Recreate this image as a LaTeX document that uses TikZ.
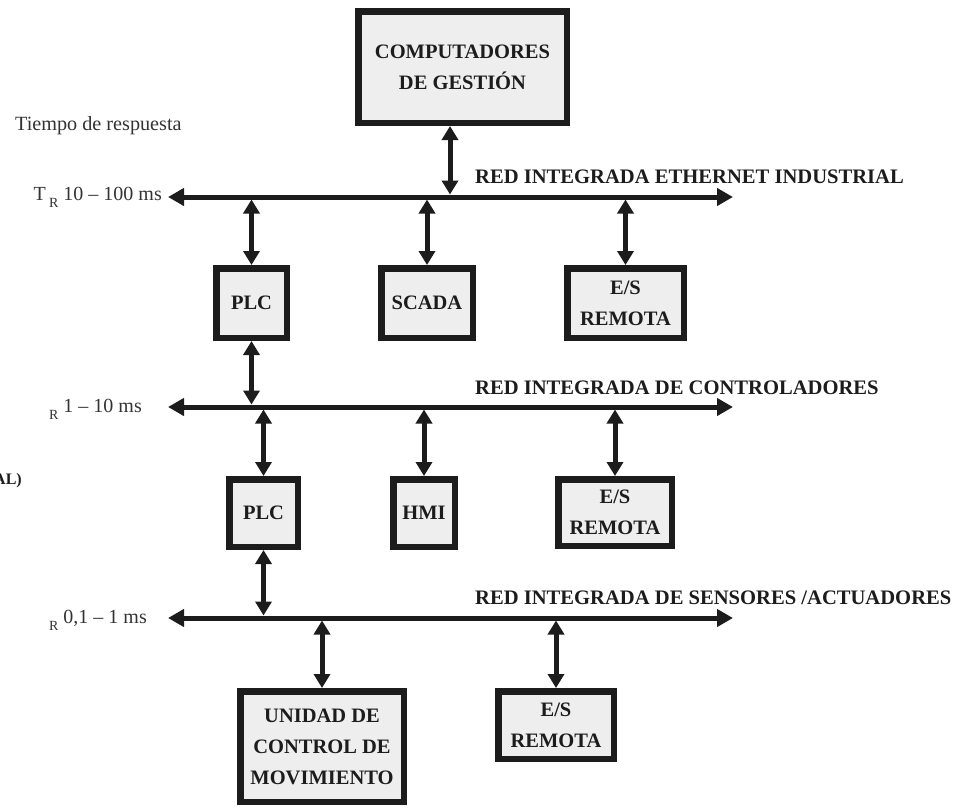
\documentclass[tikz,border=0pt]{standalone}
\usepackage{fontspec}
\setmainfont{Liberation Serif}
\usetikzlibrary{arrows.meta}
\definecolor{ink}{HTML}{1C1C1C}
\definecolor{boxgray}{HTML}{EEEEEE}
\definecolor{labelgray}{HTML}{333333}
\begin{document}
\begin{tikzpicture}[x=1pt,y=-1pt,
  unit/.style={draw=ink, line width=6.5pt, fill=boxgray, inner sep=0pt,
    align=center, text=ink, font=\fontsize{20.5}{31}\selectfont\bfseries},
  bus/.style={draw=ink, line width=5pt,
    {Triangle[length=16pt,width=17pt]}-{Triangle[length=16pt,width=17pt]}},
  link/.style={draw=ink, line width=5pt,
    {Triangle[length=14pt,width=16pt]}-{Triangle[length=14pt,width=16pt]}},
  netlabel/.style={anchor=base west, inner sep=0pt, text=ink,
    font=\fontsize{20.6}{24}\selectfont\bfseries},
  timelabel/.style={anchor=base east, inner sep=0pt, text=labelgray,
    font=\fontsize{20}{24}\selectfont}
]
\useasboundingbox (0,0) rectangle (955,806);

% ---- network buses ----
\coordinate (b1w) at (168,197); \coordinate (b1e) at (733,197);
\coordinate (b2w) at (168,407); \coordinate (b2e) at (733,407);
\coordinate (b3w) at (168,618); \coordinate (b3e) at (733,618);
% edges of each bus, where the drop arrows end
\coordinate (b1hi) at (0,194.5); \coordinate (b1lo) at (0,199.5);
\coordinate (b2hi) at (0,404.5); \coordinate (b2lo) at (0,409.5);
\coordinate (b3hi) at (0,615.5); \coordinate (b3lo) at (0,620.5);

\draw[bus] (b1w) -- (b1e);
\draw[bus] (b2w) -- (b2e);
\draw[bus] (b3w) -- (b3e);

% ---- devices ----
\node[unit, minimum width=208.5pt, minimum height=111.5pt] (comp) at (462.5,67)
  {COMPUTADORES\\DE GESTIÓN};
\node[unit, minimum width=70.5pt, minimum height=69.5pt] (plcA) at (251.5,303) {PLC};
\node[unit, minimum width=91.5pt, minimum height=69.5pt] (scada) at (427,303) {SCADA};
\node[unit, minimum width=116.5pt, minimum height=69.5pt] (esA) at (625.5,303) {E/S\\REMOTA};
\node[unit, minimum width=68.5pt, minimum height=67.5pt] (plcB) at (263.5,513) {PLC};
\node[unit, minimum width=61.5pt, minimum height=67.5pt] (hmi) at (424,513) {HMI};
\node[unit, minimum width=113.5pt, minimum height=66.5pt] (esB) at (615,512.5) {E/S\\REMOTA};
\node[unit, minimum width=163.5pt, minimum height=110.5pt] (motion) at (322,746.5)
  {UNIDAD DE\\CONTROL DE\\MOVIMIENTO};
\node[unit, minimum width=115.5pt, minimum height=67.5pt] (esC) at (556,725) {E/S\\REMOTA};

% ---- links between devices and buses ----
\coordinate (compdrop) at (450,126);
\draw[link] (compdrop |- comp.south) -- (compdrop |- b1hi);
\draw[link] (plcA.north) -- (plcA.north |- b1lo);
\draw[link] (scada.north) -- (scada.north |- b1lo);
\draw[link] (esA.north) -- (esA.north |- b1lo);
\draw[link] (plcA.south) -- (plcA.south |- b2hi);
\draw[link] (plcB.north) -- (plcB.north |- b2lo);
\draw[link] (hmi.north) -- (hmi.north |- b2lo);
\draw[link] (esB.north) -- (esB.north |- b2lo);
\draw[link] (plcB.south) -- (plcB.south |- b3hi);
\draw[link] (motion.north) -- (motion.north |- b3lo);
\draw[link] (esC.north) -- (esC.north |- b3lo);

% ---- network names ----
\node[netlabel] (n1) at (475,183) {RED INTEGRADA ETHERNET INDUSTRIAL};
\node[netlabel] (n2) at (475,394) {RED INTEGRADA DE CONTROLADORES};
\node[netlabel] (n3) at (475,604) {RED INTEGRADA DE SENSORES /ACTUADORES};

% ---- response times ----
\node[anchor=base west, inner sep=0pt, text=labelgray,
  font=\fontsize{20.2}{24}\selectfont] (tiempo) at (15,130) {Tiempo de respuesta};
\node[timelabel] (t1) at (162,200)
  {T\,\raisebox{-7pt}{\fontsize{14}{14}\selectfont R}\ 10 -- 100 ms};
\node[timelabel] (t2) at (142,412)
  {\raisebox{-7pt}{\fontsize{14}{14}\selectfont R}\ 1 -- 10 ms};
\node[timelabel] (t3) at (147,623)
  {\raisebox{-7pt}{\fontsize{14}{14}\selectfont R}\ 0,1 -- 1 ms};

\node[anchor=base east, inner sep=0pt, text=ink,
  font=\fontsize{16}{18}\selectfont\bfseries] (al) at (22,484) {AL)};
\end{tikzpicture}
\end{document}
